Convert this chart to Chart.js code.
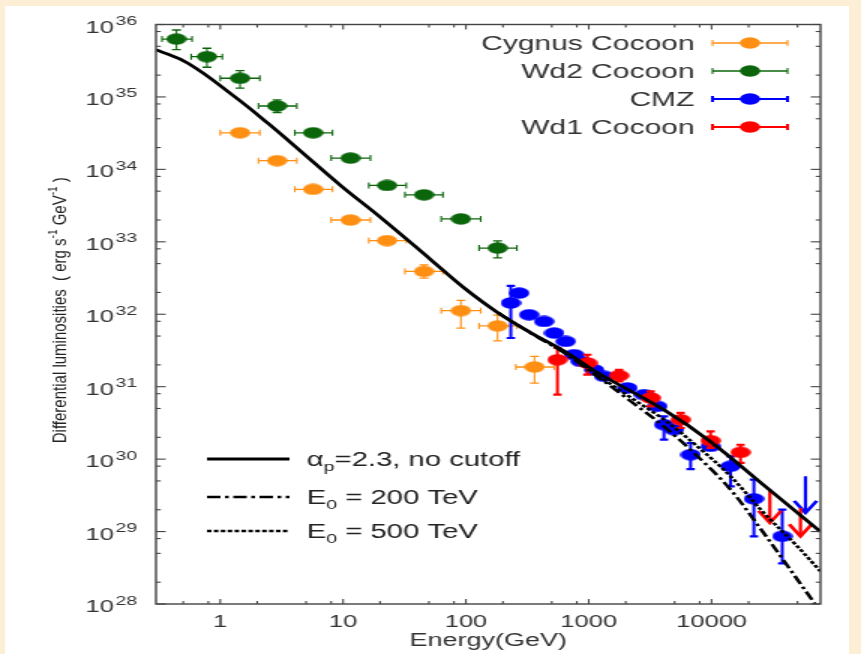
<!DOCTYPE html>
<html lang="en">
<head>
<meta charset="UTF-8" />
<title>Differential luminosities</title>
<script src="https://cdn.jsdelivr.net/npm/chart.js"></script>
<style>
  html, body { margin: 0; padding: 0; overflow: hidden; }
  body { width: 861px; height: 654px; background: #fcefd6; position: relative; }
  .paper { position: absolute; left: 5px; top: 6px; width: 844px; height: 648px; background: #fff; }
  /* the figure is drawn narrow and stretched sideways, like the original */
  .stretch { position: absolute; left: 0; top: 0; width: 574px; height: 654px; transform: scaleX(1.5); transform-origin: 0 0; }
  canvas { display: block; }
</style>
</head>
<body>
<div class="paper"></div>
<div class="stretch"><canvas id="chart" width="574" height="654"></canvas></div>
<script>
// axis ticks
const xTicks = [1, 10, 100, 1000, 10000];
const xMinor = [0.5, 0.8, 2, 5, 8, 20, 50, 80, 200, 500, 800, 2000, 5000, 8000, 20000, 50000];
const yPowers = [28, 29, 30, 31, 32, 33, 34, 35, 36];
const yMinorSteps = [2, 5, 8];

// Cygnus Cocoon
const cygE   = [1.45, 2.9, 5.7, 11.5, 22.8, 45.6, 91, 181, 362];
const cygL   = [3.2e34, 1.32e34, 5.3e33, 2.0e33, 1.04e33, 3.9e32, 1.12e32, 6.9e31, 1.87e31];
const cygElo = [1.0, 2.05, 4.05, 8.0, 16.2, 31.9, 63, 128, 255];
const cygEhi = [2.1, 4.2, 8.2, 16.7, 32.7, 65, 132, 260, 522];
const cygLlo = [null, null, null, null, null, 3.16e32, 6.45e31, 4.3e31, 1.12e31];
const cygLhi = [null, null, null, null, null, 4.8e32, 1.55e32, 9.75e31, 2.62e31];

// Wd2 Cocoon
const wd2E   = [0.44, 0.78, 1.45, 2.9, 5.7, 11.5, 22.8, 45.6, 91, 181];
const wd2L   = [6.3e35, 3.6e35, 1.81e35, 7.5e34, 3.2e34, 1.43e34, 6.0e33, 4.45e33, 2.07e33, 8.2e32];
const wd2Elo = [0.336, 0.58, 1.0, 2.05, 4.05, 8.0, 16.2, 31.9, 63, 128];
const wd2Ehi = [0.59, 1.04, 2.1, 4.2, 8.2, 16.7, 32.7, 65, 132, 260];
const wd2Llo = [4.5e35, 2.57e35, 1.32e35, 6.1e34, null, null, null, null, null, 6.0e32];
const wd2Lhi = [8.4e35, 4.7e35, 2.31e35, 9.1e34, null, null, null, null, null, 1.03e33];

// CMZ
const cmzE   = [232, 271, 327, 433, 523, 650, 760, 861, 1104, 1333, 2064, 2820, 3615, 4095, 4940, 6745, 9815, 14270, 22100, 37600];
const cmzL   = [1.43e32, 1.96e32, 9.84e31, 7.95e31, 5.5e31, 4.22e31, 2.76e31, 2.23e31, 1.71e31, 1.39e31,
                9.6e30, 7.76e30, 5.35e30, 2.99e30, 2.55e30, 1.15e30, 1.5e30, 7.96e29, 2.83e29, 8.6e28];
const cmzLlo = [4.7e31, null, null, null, null, null, null, null, null, null,
                null, null, null, 1.86e30, null, 7.3e29, null, 4.2e29, 8.6e28, 3.64e28];
const cmzLhi = [2.47e32, null, null, null, null, null, null, null, null, null,
                null, null, null, 3.89e30, null, 1.67e30, null, 1.09e30, 5.2e29, 2.01e29];
const cmzUlE = [58100];
const cmzUlTop = [5.8e29];
const cmzUlTip = [1.81e29];

// Wd1 Cocoon
const wd1E   = [556, 975, 1765, 3190, 5600, 9815, 17200];
const wd1L   = [2.35e31, 2.12e31, 1.42e31, 6.98e30, 3.5e30, 1.8e30, 1.24e30];
const wd1Llo = [7.76e30, 1.47e31, 1.18e31, 5.35e30, 2.69e30, 1.43e30, 8.9e29];
const wd1Lhi = [3.42e31, 2.76e31, 1.71e31, 8.6e30, 4.34e30, 2.42e30, 1.58e30];
const wd1UlE = [29800, 52900];
const wd1UlTop = [3.8e29, 2.12e29];
const wd1UlTip = [1.32e29, 8.6e28];

// model curves
const noCutE = [0.3, 0.546, 1.31, 2.44, 4.56, 9.63, 20.4, 51.9, 96.3, 182, 338, 626, 1183, 4074, 9817, 27500, 76900];
const noCutL = [4.5e35, 2.92e35, 1.01e35, 4.34e34, 1.76e34, 5.92e33, 2.14e33, 5.65e32, 2.32e32, 1.05e32,
                5.56e31, 3.14e31, 1.56e31, 4.82e30, 1.74e30, 4.18e29, 1.0e29];
const cutE    = [182, 338, 626, 1183, 2193, 4093, 7656, 14260, 26600, 49800, 76900];
const cut200L = [1.05e32, 5.46e31, 2.95e31, 1.37e31, 6.3e30, 2.82e30, 1.1e30, 3.8e29, 9.5e28, 2.19e28, 7.9e27];
const cut500L = [1.05e32, 5.5e31, 3.02e31, 1.43e31, 7.1e30, 3.51e30, 1.5e30, 5.8e29, 1.81e29, 6.27e28, 2.83e28];

const FONT = '"Liberation Sans", Arial, sans-serif';
const ORANGE = '#ff8f12', GREEN = '#0b660b', BLUE = '#0000ff', RED = '#ff0000';

function pts(xs, ys) {
    return xs.map((v, i) => ({ x: v, y: ys[i] }));
}

// oval marker (becomes wider once the page is stretched)
function oval(color) {
    const c = document.createElement('canvas');
    c.width = 14;
    c.height = 12;
    const g = c.getContext('2d');
    g.fillStyle = color;
    g.beginPath();
    g.ellipse(7, 6, 6.8, 5.7, 0, 0, Math.PI * 2);
    g.fill();
    return c;
}

function seg(ctx, x0, y0, x1, y1) {
    ctx.beginPath();
    ctx.moveTo(x0, y0);
    ctx.lineTo(x1, y1);
    ctx.stroke();
}

const thinErr = { hw: 1.3, vw: 1.1, cap: 3, capV: 3 };
const thickErr = { hw: 2.2, vw: 2, cap: 3, capV: 2.8 };

const datasets = [
    { label: 'αp=2.3, no cutoff', data: pts(noCutE, noCutL), showLine: true, borderColor: '#000',
      borderWidth: 2.8, pointRadius: 0, tension: 0.4, sub: ['α', 'p', '=2.3, no cutoff'] },
    { label: 'E0 = 200 TeV', data: pts(cutE, cut200L), showLine: true, borderColor: '#000',
      borderWidth: 2.5, borderDash: [9, 3, 2.5, 3], pointRadius: 0, cubicInterpolationMode: 'monotone', sub: ['E', '0', ' = 200 TeV'] },
    { label: 'E0 = 500 TeV', data: pts(cutE, cut500L), showLine: true, borderColor: '#000',
      borderWidth: 2.5, borderDash: [3, 1.6], pointRadius: 0, cubicInterpolationMode: 'monotone', sub: ['E', '0', ' = 500 TeV'] },
    { label: 'Wd1 Cocoon', data: pts(wd1E, wd1L), color: RED, borderColor: RED, backgroundColor: RED,
      pointStyle: oval(RED), pointRadius: 6, err: { ...thickErr, llo: wd1Llo, lhi: wd1Lhi },
      ul: { e: wd1UlE, top: wd1UlTop, tip: wd1UlTip } },
    { label: 'CMZ', data: pts(cmzE, cmzL), color: BLUE, borderColor: BLUE, backgroundColor: BLUE,
      pointStyle: oval(BLUE), pointRadius: 6, err: { ...thickErr, llo: cmzLlo, lhi: cmzLhi },
      ul: { e: cmzUlE, top: cmzUlTop, tip: cmzUlTip } },
    { label: 'Wd2 Cocoon', data: pts(wd2E, wd2L), color: GREEN, borderColor: GREEN, backgroundColor: GREEN,
      pointStyle: oval(GREEN), pointRadius: 6, err: { ...thinErr, elo: wd2Elo, ehi: wd2Ehi, llo: wd2Llo, lhi: wd2Lhi } },
    { label: 'Cygnus Cocoon', data: pts(cygE, cygL), color: ORANGE, borderColor: ORANGE, backgroundColor: ORANGE,
      pointStyle: oval(ORANGE), pointRadius: 6, err: { ...thinErr, elo: cygElo, ehi: cygEhi, llo: cygLlo, lhi: cygLhi } }
];

// error bars and upper limit arrows, drawn under each dataset's markers
const errorBars = {
    id: 'errorBars',
    beforeDatasetDraw(chart, args) {
        const ds = chart.data.datasets[args.index];
        const e = ds.err;
        if (!e) return;
        const { ctx, chartArea: a, scales: { x, y } } = chart;
        ctx.save();
        ctx.beginPath();
        ctx.rect(a.left, a.top, a.right - a.left, a.bottom - a.top);
        ctx.clip();
        ctx.strokeStyle = ds.color;
        ds.data.forEach((p, i) => {
            const px = x.getPixelForValue(p.x);
            const py = y.getPixelForValue(p.y);
            if (e.elo) {
                const x0 = x.getPixelForValue(e.elo[i]);
                const x1 = x.getPixelForValue(e.ehi[i]);
                ctx.lineWidth = e.hw;
                seg(ctx, x0, py, x1, py);
                ctx.lineWidth = e.vw;
                seg(ctx, x0, py - e.cap, x0, py + e.cap);
                seg(ctx, x1, py - e.cap, x1, py + e.cap);
            }
            if (e.llo && e.llo[i] != null) {
                const y0 = y.getPixelForValue(e.llo[i]);
                const y1 = y.getPixelForValue(e.lhi[i]);
                ctx.lineWidth = e.vw;
                seg(ctx, px, y0, px, y1);
                ctx.lineWidth = e.hw;
                seg(ctx, px - e.capV, y0, px + e.capV, y0);
                seg(ctx, px - e.capV, y1, px + e.capV, y1);
            }
        });
        if (ds.ul) {
            ds.ul.e.forEach((v, i) => {
                const px = x.getPixelForValue(v);
                const y0 = y.getPixelForValue(ds.ul.top[i]);
                const y1 = y.getPixelForValue(ds.ul.tip[i]);
                ctx.lineWidth = 2.2;
                seg(ctx, px, y0, px, y1 - 2);
                ctx.lineWidth = 2.6;
                ctx.beginPath();
                ctx.moveTo(px - 7.5, y1 - 12);
                ctx.lineTo(px, y1);
                ctx.lineTo(px + 7.5, y1 - 12);
                ctx.stroke();
            });
        }
        ctx.restore();
    }
};

// frame, inward ticks, y labels with exponents, y title, both legends
const decorations = {
    id: 'decorations',
    afterDraw(chart) {
        const { ctx, chartArea: a, scales: { x, y } } = chart;
        ctx.save();
        ctx.strokeStyle = '#444';
        ctx.lineWidth = 1.4;
        ctx.strokeRect(a.left, a.top, a.right - a.left, a.bottom - a.top);

        ctx.lineWidth = 1.1;
        const xt = (v, len) => {
            const px = x.getPixelForValue(v);
            seg(ctx, px, a.bottom, px, a.bottom - len);
            seg(ctx, px, a.top, px, a.top + len);
        };
        xTicks.forEach(v => xt(v, 5));
        xMinor.forEach(v => xt(v, 3));

        const yt = (v, len) => {
            const py = y.getPixelForValue(v);
            seg(ctx, a.left, py, a.left + len, py);
            seg(ctx, a.right, py, a.right - len, py);
        };
        yPowers.forEach(p => {
            yt(Math.pow(10, p), 6.5);
            if (p < 36) yMinorSteps.forEach(m => yt(m * Math.pow(10, p), 3.2));
        });

        // y tick labels 10^n
        ctx.fillStyle = '#333';
        ctx.textBaseline = 'alphabetic';
        yPowers.forEach(p => {
            const py = y.getPixelForValue(Math.pow(10, p));
            ctx.font = '17px ' + FONT;
            ctx.textAlign = 'right';
            ctx.fillText('10', 76, py + 8);
            ctx.font = '13px ' + FONT;
            ctx.textAlign = 'left';
            ctx.fillText(String(p), 77, py + 0.5);
        });

        // y title, rotated
        const parts = [['Differential luminosities  ( erg s', false], ['-1', true], [' GeV', false], ['-1', true], [' )', false]];
        ctx.save();
        ctx.translate(44, (a.top + a.bottom) / 2 - 4);
        ctx.rotate(-Math.PI / 2);
        ctx.scale(1, 0.85);
        ctx.fillStyle = '#222';
        const big = '15px ' + FONT, small = '10px ' + FONT;
        let total = 0;
        parts.forEach(([t, sup]) => { ctx.font = sup ? small : big; total += ctx.measureText(t).width; });
        let tx = -total / 2;
        ctx.textAlign = 'left';
        parts.forEach(([t, sup]) => {
            ctx.font = sup ? small : big;
            ctx.fillText(t, tx, sup ? -7 : 0);
            tx += ctx.measureText(t).width;
        });
        ctx.restore();

        // data legend, top right
        const rows = ['Cygnus Cocoon', 'Wd2 Cocoon', 'CMZ', 'Wd1 Cocoon'];
        const rowY = [43, 71, 99, 127];
        rows.forEach((name, i) => {
            const ds = chart.data.datasets.find(d => d.label === name);
            const ry = rowY[i];
            ctx.fillStyle = '#333';
            ctx.font = '20px ' + FONT;
            ctx.textAlign = 'right';
            ctx.fillText(name, 463, ry + 6.8);
            ctx.strokeStyle = ds.color;
            ctx.lineWidth = ds.err.hw;
            seg(ctx, 475, ry, 525, ry);
            ctx.lineWidth = ds.err.vw;
            seg(ctx, 475, ry - 3, 475, ry + 3);
            seg(ctx, 525, ry - 3, 525, ry + 3);
            ctx.drawImage(ds.pointStyle, 500 - 7, ry - 6);
        });

        // model legend, bottom left
        const lineRowY = [459, 497, 531];
        chart.data.datasets.slice(0, 3).forEach((ds, i) => {
            const ry = lineRowY[i];
            ctx.strokeStyle = '#000';
            ctx.lineWidth = ds.borderWidth;
            ctx.setLineDash(ds.borderDash || []);
            seg(ctx, 138, ry, 193, ry);
            ctx.setLineDash([]);
            ctx.fillStyle = '#222';
            ctx.textAlign = 'left';
            const [a0, s, rest] = ds.sub;
            let tx = 204.5;
            ctx.font = '19.5px ' + FONT;
            ctx.fillText(a0, tx, ry + 6.5);
            tx += ctx.measureText(a0).width;
            ctx.font = '13px ' + FONT;
            ctx.fillText(s, tx, ry + 12);
            tx += ctx.measureText(s).width;
            ctx.font = '19.5px ' + FONT;
            ctx.fillText(rest, tx, ry + 6.5);
        });
        ctx.restore();
    }
};

const chart = new Chart(document.getElementById('chart'), {
    type: 'scatter',
    data: { datasets: datasets },
    options: {
        responsive: false,
        animation: false,
        events: [],
        devicePixelRatio: 1,
        layout: { padding: { left: 0, right: 27, top: 24.5, bottom: 0 } },
        plugins: { legend: { display: false }, tooltip: { enabled: false } },
        scales: {
            x: {
                type: 'logarithmic',
                min: 0.3,
                max: 77000,
                grid: { display: false },
                border: { display: false },
                afterBuildTicks: s => { s.ticks = xTicks.map(v => ({ value: v })); },
                afterFit: s => { s.height = 50; },
                ticks: {
                    autoSkip: false,
                    maxRotation: 0,
                    padding: 0,
                    color: '#333',
                    font: { size: 17, family: FONT },
                    callback: v => String(v)
                },
                title: {
                    display: true,
                    text: 'Energy(GeV)',
                    color: '#333',
                    font: { size: 18, family: FONT },
                    padding: { top: 0, bottom: 2 }
                }
            },
            y: {
                type: 'logarithmic',
                min: 1e28,
                max: 1e36,
                grid: { display: false },
                border: { display: false },
                ticks: { display: false },
                afterFit: s => { s.width = 104; }
            }
        }
    },
    plugins: [errorBars, decorations]
});
</script>
</body>
</html>
